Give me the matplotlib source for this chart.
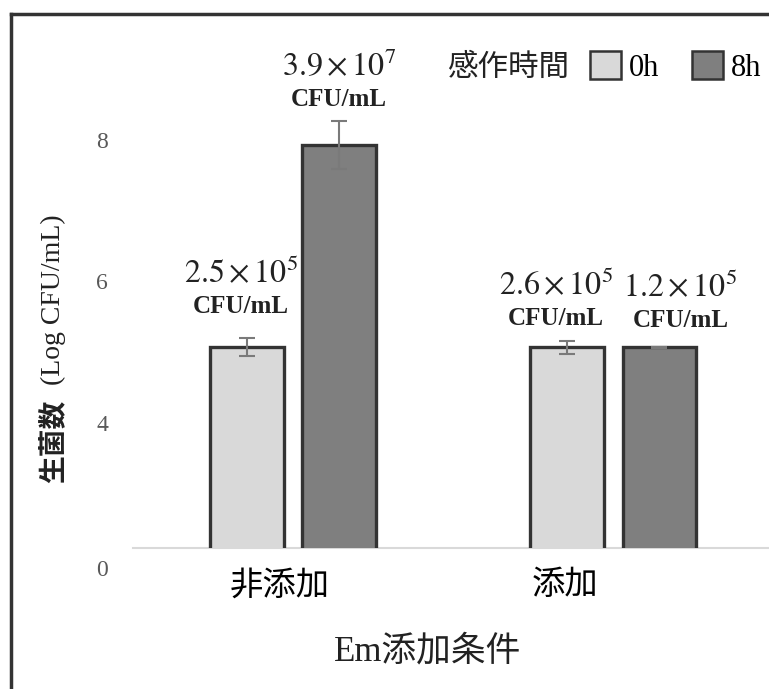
import matplotlib.pyplot as plt
import numpy as np
from matplotlib.patches import Patch
from matplotlib.lines import Line2D

plt.rcParams['mathtext.fontset'] = 'stix'

# data
groups = ['非添加', '添加']
times = ['0h', '8h']
mean_0h = [5.07, 5.07]
mean_8h = [7.93, 5.07]
err_0h = [0.13, 0.09]
err_8h = [0.34, 0.01]
count_0h = [r'$\mathrm{2.5\times10^{5}}$', r'$\mathrm{2.6\times10^{5}}$']
count_8h = [r'$\mathrm{3.9\times10^{7}}$', r'$\mathrm{1.2\times10^{5}}$']
yticks = [4, 6, 8]

c_light = '#d9d9d9'
c_dark = '#7f7f7f'
edge = '#333333'
serif = ['Liberation Serif', 'Noto Sans CJK JP']
cjk = ['Noto Sans CJK JP', 'DejaVu Sans']

W, H = 769, 689
fig = plt.figure(figsize=(W / 100, H / 100), dpi=100)
ax = fig.add_axes([133 / W, (H - 548) / H, (W - 133) / W, (548 - 14) / H])

x = np.arange(len(groups))
bw = 0.23
off = 0.144
b0 = ax.bar(x - off, mean_0h, bw, bottom=0, color=c_light, edgecolor=edge, linewidth=2.4, zorder=2)
b1 = ax.bar(x + off, mean_8h, bw, bottom=0, color=c_dark, edgecolor=edge, linewidth=2.4, zorder=2)
ax.errorbar(x - off, mean_0h, yerr=err_0h, fmt='none', ecolor='#7a7a7a', elinewidth=1.5, capsize=6, capthick=1.5, zorder=3)
ax.errorbar(x + off, mean_8h, yerr=err_8h, fmt='none', ecolor='#7a7a7a', elinewidth=1.5, capsize=6, capthick=1.5, zorder=3)

ax.set_xlim(-0.5, 1.486)
ax.set_ylim(2.233, 9.78)

for s in ax.spines.values():
    s.set_visible(False)
ax.axhline(2.233, color='#d9d9d9', lw=1.5, zorder=1, clip_on=False)

ax.set_yticks(yticks)
ax.set_yticklabels([str(t) for t in yticks], family=serif, fontsize=17, color='#595959')
ax.tick_params(axis='y', length=0, pad=18)
ax.annotate('0', xy=(0, 1.92), xycoords=ax.get_yaxis_transform(), xytext=(-18, 0),
            textcoords='offset points', ha='right', va='center',
            family=serif, fontsize=17, color='#595959', annotation_clip=False)

# category labels (slightly off the group centres in the original)
ax.set_xticks([-0.042, 0.848])
ax.set_xticklabels(groups, family=cjk, fontsize=24)
ax.tick_params(axis='x', length=0, pad=14)

# count labels above bars
dx0 = [-6, -11]
dx1 = [0, 21]
lift = [[41, 29], [45, 27]]
for i in range(len(groups)):
    for bars, lab, dx, j in ((b0, count_0h, dx0, 0), (b1, count_8h, dx1, 1)):
        r = bars[i]
        xc = r.get_x() + r.get_width() / 2
        top = r.get_height()
        up = lift[j][i]
        ax.annotate(lab[i], xy=(xc, top), xytext=(dx[i] / 1.389, (up + 33) / 1.389),
                    textcoords='offset points', ha='center', va='center',
                    fontsize=23, color='#222222')
        ax.annotate('CFU/mL', xy=(xc, top), xytext=(dx[i] / 1.389, up / 1.389),
                    textcoords='offset points', ha='center', va='center',
                    family=serif, fontsize=18, fontweight='bold', color='#222222')

# axis titles
fig.text(53 / W, 1 - 441 / H, '生菌数', rotation=90, ha='center', va='center',
         family=cjk, fontsize=20, fontweight='bold', color='#222222')
fig.text(53 / W, 1 - 300 / H, '(Log CFU/mL)', rotation=90, ha='center', va='center',
         family=serif, fontsize=20, color='#222222')
fig.text(428 / W, 1 - 652 / H, 'Em添加条件', ha='center', va='center',
         family=serif, fontsize=25, color='#222222')

# legend
fig.text(447 / W, 1 - 67 / H, '感作時間', ha='left', va='center', family=cjk, fontsize=22, color='#222222')
handles = [Patch(facecolor=c_light, edgecolor=edge, linewidth=1.8),
           Patch(facecolor=c_dark, edgecolor=edge, linewidth=1.8)]
leg = fig.legend(handles, times, loc='center left', bbox_to_anchor=(590 / W, 1 - 67 / H), ncol=2,
                 frameon=False, handlelength=1.0, handleheight=1.0, handletextpad=0.26,
                 columnspacing=1.1, borderaxespad=0, borderpad=0,
                 prop={'family': serif, 'size': 22})

# picture frame (left and top)
fig.add_artist(Line2D([11 / W, 11 / W], [0, 1 - 14 / H], color=edge, lw=2.5, transform=fig.transFigure))
fig.add_artist(Line2D([11 / W, 1], [1 - 14 / H, 1 - 14 / H], color=edge, lw=2.5, transform=fig.transFigure))

fig.savefig('out.png', dpi=100)
